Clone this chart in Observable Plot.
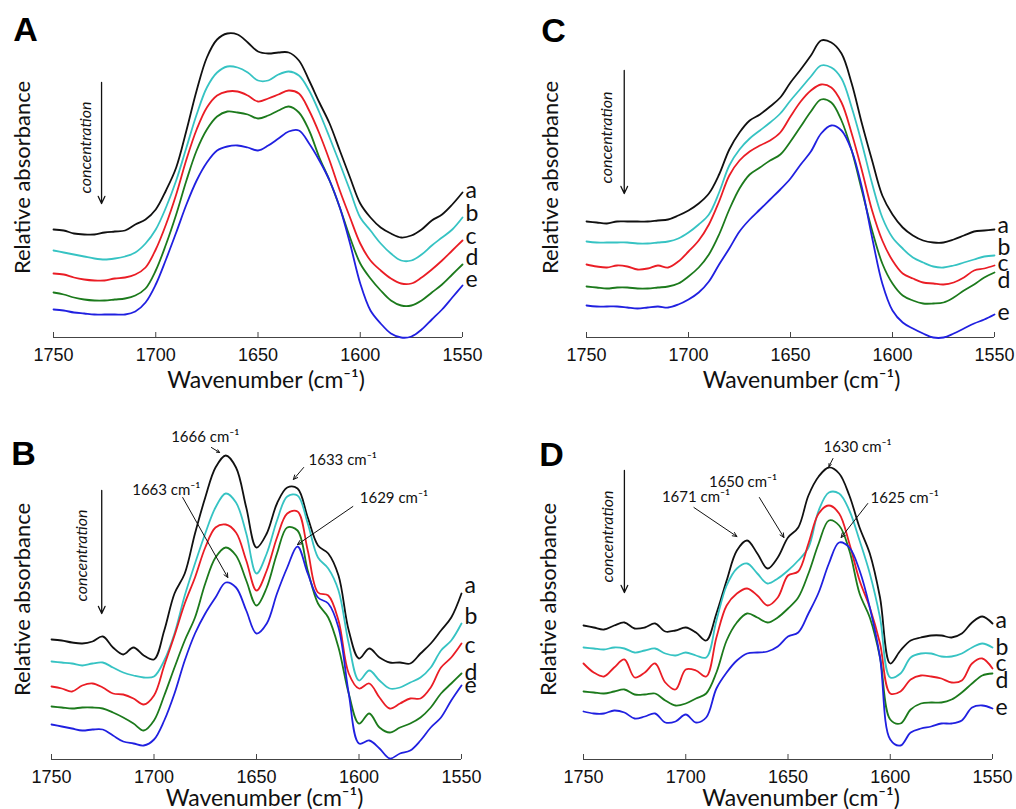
<!DOCTYPE html>
<html>
<head>
<meta charset="utf-8">
<script src="https://cdn.jsdelivr.net/npm/d3@7"></script>
<script src="https://cdn.jsdelivr.net/npm/@observablehq/plot@0.6"></script>
<style>
  body { margin: 0; background: #fff; }
  #fig { position: relative; width: 1016px; height: 809px; overflow: hidden; }
  #fig svg { position: absolute; overflow: visible; }
</style>
</head>
<body>
<div id="fig"></div>
<script>
// ---------- shared categories ----------
const wavenumbers = [1750,1745,1740,1735,1730,1725,1720,1715,1710,1705,
  1700,1695,1690,1685,1680,1675,1670,1665,1660,1655,
  1650,1645,1640,1635,1630,1625,1620,1615,1610,1605,
  1600,1595,1590,1585,1580,1575,1570,1565,1560,1555,1550];
const seriesNames = ["a", "b", "c", "d", "e"];
const seriesColors = ["#111111", "#36c3c3", "#ea1d25", "#1c7a1c", "#2020e0"];
const xTicks = [1750, 1700, 1650, 1600, 1550];

// ---------- panel A (relative absorbance, arbitrary units) ----------
const A_a = [108,107,104,103,103,105,106,107,113,118, 128,147,170,207,247,280,298,304,303,295, 286,284,285,285,277,257,235,214,187,160, 134,120,110,104,100,102,108,117,123,133, 145];
const A_b = [87,85,83,81,79,78,79,81,85,94, 108,130,157,190,223,250,265,271,270,265, 257,257,263,266,262,247,225,200,174,147, 120,107,94,84,77,77,83,92,100,108, 120];
const A_c = [64,63,60,58,57,57,59,60,63,70, 88,113,143,178,208,230,242,246,246,242, 236,239,243,247,244,227,204,177,147,120, 94,77,67,59,54,54,60,68,77,87, 97];
const A_d = [45,43,40,38,37,37,38,39,42,49, 67,93,123,157,187,208,221,226,225,223, 219,222,227,231,225,207,180,157,130,100, 74,59,47,37,32,32,37,45,53,63, 73];
const A_e = [28,27,25,24,23,23,23,23,26,35, 53,78,105,133,157,175,187,191,192,190, 187,192,199,206,207,194,177,157,130,94, 54,27,14,4,0,1,8,18,28,40, 52];
const A_labelY = [147, 124, 101, 80, 58];

// ---------- panel C ----------
const C_a = [116,115,114,116,116,116,116,117,118,122, 127,134,144,163,188,205,217,223,231,240, 255,268,282,297,295,284,254,214,177,142, 123,110,102,97,95,95,98,102,106,107, 108];
const C_b = [96,95,95,95,95,94,94,95,96,99, 105,113,123,145,172,188,199,207,215,224, 237,249,261,272,270,259,230,194,154,120, 100,89,80,75,71,70,72,75,78,81, 82];
const C_c = [73,71,70,72,71,68,69,72,70,76, 86,97,113,136,162,177,186,192,197,205, 221,236,247,253,250,235,204,167,127,97, 77,64,59,55,54,53,55,60,67,69, 72];
const C_d = [51,50,49,50,50,49,49,50,51,54, 61,70,83,103,128,149,163,170,177,183, 196,211,226,238,235,217,187,147,107,74, 54,42,37,34,34,35,40,47,53,60, 65];
const C_e = [32,31,31,31,30,29,30,31,30,33, 38,45,56,73,89,106,118,128,138,148, 159,173,186,204,212,207,187,150,100,54, 27,15,9,4,0,0,4,9,14,18, 23];
const C_labelY = [112, 90, 74, 57, 25];

// ---------- panel B ----------
const B_a = [120,119,117,116,118,123,112,105,112,104, 100,129,166,186,226,262,292,304,292,252, 212,226,256,272,271,242,214,206,184,129, 101,111,102,97,97,96,106,116,129,142, 166];
const B_b = [98,97,96,94,96,97,92,87,84,82, 83,99,126,164,196,226,252,266,257,226, 186,206,239,263,264,236,202,191,169,116, 79,89,79,71,72,77,82,92,109,119, 136];
const B_c = [73,71,68,74,76,72,66,65,61,55, 64,94,124,156,182,212,232,235,227,199, 169,189,222,246,248,209,167,164,139,86, 71,76,62,51,56,61,61,72,92,102, 116];
const B_d = [53,52,51,52,52,51,47,42,36,29, 39,64,92,119,142,176,202,212,204,179, 154,172,206,232,229,189,156,142,112,66, 36,46,32,27,32,36,42,52,66,76, 86];
const B_e = [35,33,31,29,30,30,24,18,16,14, 20,39,66,99,126,146,162,177,172,149, 126,136,166,192,213,186,162,156,132,66, 16,19,11,1,6,9,19,32,42,59, 74];
const B_labelY = [174, 143, 114, 87, 74];

// ---------- panel D ----------
const D_a = [134,132,130,134,137,131,132,136,128,129, 132,127,119,146,179,209,219,206,191,202, 222,232,264,283,292,286,264,232,206,162, 96,109,119,122,124,124,122,126,137,143, 136];
const D_b = [112,111,110,112,111,107,109,111,106,104, 107,104,102,139,174,191,196,186,176,181, 189,199,212,249,267,266,249,219,186,142, 82,86,102,106,106,103,103,106,112,116, 112];
const D_c = [96,87,83,92,100,82,87,96,77,70, 90,89,83,122,154,166,171,164,154,162, 184,188,216,246,254,246,216,179,152,116, 66,68,80,84,83,81,77,79,96,101, 91];
const D_d = [68,67,66,68,70,65,65,66,59,54, 56,61,66,87,119,137,146,142,137,142, 151,162,186,216,239,234,209,166,142,102, 40,36,50,56,57,57,60,67,76,84, 86];
const D_e = [48,46,46,49,47,41,43,46,37,38, 45,37,42,71,87,99,106,107,108,113, 123,127,146,167,196,217,212,189,152,102, 20,14,27,31,33,36,36,39,52,54, 51];
const D_labelY = [139, 112, 96, 79, 52];

// ---------- annotations (peak labels) ----------
const B_noteText = ["1666 cm⁻¹", "1633 cm⁻¹", "1663 cm⁻¹", "1629 cm⁻¹"];
const B_noteX = [1675, 1608, 1694, 1583];
const B_noteY = [322, 299, 269, 261];
const B_arrowX1 = [1672, 1627, 1686, 1603];
const B_arrowY1 = [312, 292, 262, 253];
const B_arrowX2 = [1668, 1632, 1664, 1630];
const B_arrowY2 = [307, 280, 182, 215];

const D_noteText = ["1630 cm⁻¹", "1650 cm⁻¹", "1671 cm⁻¹", "1625 cm⁻¹"];
const D_noteX = [1616, 1672, 1695, 1593];
const D_noteY = [312, 277, 262, 261];
const D_arrowX1 = [1628, 1664, 1696, 1611];
const D_arrowY1 = [301, 262, 252, 256];
const D_arrowX2 = [1630, 1652, 1675, 1624];
const D_arrowY2 = [293, 222, 223, 222];

// "concentration" arrow: [x, yStart, yEnd, textX, textY]
const concA = [1726.5, 255, 134, 1734, 190];
const concC = [1731.5, 267, 144, 1740, 200];
const concB = [1725.5, 269, 146, 1735, 204];
const concD = [1730, 289, 167, 1738, 223];

const panels = [
  {letter: "A", left: 0, top: 0, height: 404, mL: 53, mR: 46, mT: 17, mB: 67,
   series: [A_a, A_b, A_c, A_d, A_e], labelY: A_labelY, conc: concA,
   letterD: [-28, 13], ylabDx: -31, xlabDy: 43, xlabDx: 8},
  {letter: "C", left: 508, top: 0, height: 404, mL: 78, mR: 22, mT: 17, mB: 67,
   series: [C_a, C_b, C_c, C_d, C_e], labelY: C_labelY, conc: concC,
   letterD: [-33, 14], ylabDx: -36, xlabDy: 43, xlabDx: 11},
  {letter: "B", left: 0, top: 404, height: 405, mL: 51, mR: 47, mT: 35, mB: 50,
   series: [B_a, B_b, B_c, B_d, B_e], labelY: B_labelY, conc: concB,
   letterD: [-28, 15], ylabDx: -29, xlabDy: 39, xlabDx: 8,
   notes: [B_noteText, B_noteX, B_noteY], arrows: [B_arrowX1, B_arrowY1, B_arrowX2, B_arrowY2]},
  {letter: "D", left: 508, top: 404, height: 405, mL: 75, mR: 24, mT: 35, mB: 50,
   series: [D_a, D_b, D_c, D_d, D_e], labelY: D_labelY, conc: concD,
   letterD: [-32, 16], ylabDx: -35, xlabDy: 39, xlabDx: 13,
   notes: [D_noteText, D_noteX, D_noteY], arrows: [D_arrowX1, D_arrowY1, D_arrowX2, D_arrowY2]}
];

const fig = document.getElementById("fig");
const sans = "Lato, 'Open Sans', sans-serif";

for (const p of panels) {
  const rows = [];
  p.series.forEach((vals, si) => {
    vals.forEach((v, i) => rows.push({w: wavenumbers[i], v, s: seriesNames[si]}));
  });
  const labels = seriesNames.map((s, i) => ({s, y: p.labelY[i]}));
  const [cx, cy1, cy2, ctx, cty] = p.conc;

  const marks = [
    Plot.ruleY([0], {stroke: "#444", strokeWidth: 1}),
    Plot.ruleX(xTicks, {x: d => d, y1: 0, y2: 5, stroke: "#444", strokeWidth: 1}),
    Plot.axisX(xTicks, {tickSize: 0, tickPadding: 11, fontSize: 18, fill: "#111", label: null,
      tickFormat: d => String(d)}),
    Plot.line(rows, {x: "w", y: "v", z: "s", stroke: "s", curve: "catmull-rom", strokeWidth: 1.8}),
    Plot.text(labels, {x: () => 1550, y: "y", text: "s", dx: 3, textAnchor: "start",
      fontSize: 23, fontFamily: sans, fill: "#111"}),
    Plot.text([p.letter], {frameAnchor: "top-left", dx: p.letterD[0], dy: p.letterD[1],
      textAnchor: "middle", lineAnchor: "middle",
      fontSize: 34, fontWeight: "bold", fontFamily: "'Liberation Sans', Arial, sans-serif", fill: "#000"}),
    Plot.text(["Relative absorbance"], {frameAnchor: "left", rotate: -90, dx: p.ylabDx,
      textAnchor: "middle", lineAnchor: "middle",
      fontSize: 22, fontFamily: sans, fill: "#111"}),
    Plot.text(["Wavenumber (cm⁻¹)"], {frameAnchor: "bottom", dy: p.xlabDy, dx: p.xlabDx,
      textAnchor: "middle", lineAnchor: "middle", fontSize: 23, fontFamily: sans, fill: "#111"}),
    Plot.arrow([0], {x1: () => cx, y1: () => cy1, x2: () => cx, y2: () => cy2,
      stroke: "#111", strokeWidth: 1.3, headLength: 9, headAngle: 50}),
    Plot.text(["concentration"], {x: () => ctx, y: () => cty, rotate: -90,
      fontSize: 16, fontStyle: "italic", fontFamily: sans, fill: "#111"})
  ];
  if (p.notes) {
    const [t, nx, ny] = p.notes;
    const notes = t.map((text, i) => ({text, x: nx[i], y: ny[i]}));
    const [ax1, ay1, ax2, ay2] = p.arrows;
    const arrows = ax1.map((_, i) => ({x1: ax1[i], y1: ay1[i], x2: ax2[i], y2: ay2[i]}));
    marks.push(Plot.arrow(arrows, {x1: "x1", y1: "y1", x2: "x2", y2: "y2",
      stroke: "#111", strokeWidth: 1, headLength: 7, headAngle: 50}));
    marks.push(Plot.text(notes, {x: "x", y: "y", text: "text", fontSize: 15,
      fontFamily: sans, fill: "#111"}));
  }

  const svg = Plot.plot({
    width: 508,
    height: p.height,
    marginLeft: p.mL,
    marginRight: p.mR,
    marginTop: p.mT,
    marginBottom: p.mB,
    style: {fontFamily: "'Liberation Sans', Arial, sans-serif", fontSize: "18px", background: "transparent", overflow: "visible"},
    x: {domain: [1750, 1550]},
    y: {domain: [0, 320], axis: null},
    color: {domain: seriesNames, range: seriesColors},
    marks
  });
  svg.style.left = p.left + "px";
  svg.style.top = p.top + "px";
  fig.appendChild(svg);
}
</script>
</body>
</html>
